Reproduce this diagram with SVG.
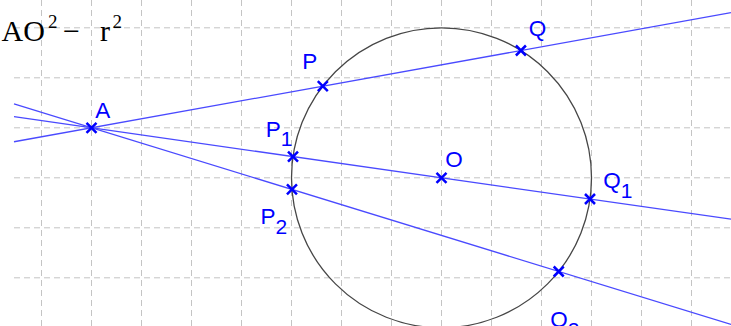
<svg xmlns="http://www.w3.org/2000/svg" width="731" height="326" viewBox="0 0 731 326">
  <style>
    .grid line { stroke: #c4c4c4; stroke-width: 1; stroke-dasharray: 6 4; }
    .ln { stroke: #4a4aff; stroke-width: 1.3; fill: none; }
    .circ { stroke: #464646; stroke-width: 1.3; fill: none; }
    .pt { stroke: #0000ff; stroke-width: 2.5; fill: none; }
    .lbl { font-family: "Liberation Sans", Arial, sans-serif; font-size: 22.5px; fill: #0000ff; }
    .sub { font-size: 21px; }
    .title { font-family: "Liberation Serif", "Times New Roman", serif; fill: #000; }
  </style>
  <defs>
    <path id="x" d="M-5,-5 L5,5 M-5,5 L5,-5" class="pt"/>
  </defs>
  <rect width="731" height="326" fill="#fff"/>
  <g class="grid">
    <line x1="41.5" y1="0" x2="41.5" y2="326"/>
    <line x1="91.5" y1="0" x2="91.5" y2="326"/>
    <line x1="141.5" y1="0" x2="141.5" y2="326"/>
    <line x1="191.5" y1="0" x2="191.5" y2="326"/>
    <line x1="241.5" y1="0" x2="241.5" y2="326"/>
    <line x1="291.5" y1="0" x2="291.5" y2="326"/>
    <line x1="341.5" y1="0" x2="341.5" y2="326"/>
    <line x1="391.5" y1="0" x2="391.5" y2="326"/>
    <line x1="441.5" y1="0" x2="441.5" y2="326"/>
    <line x1="491.5" y1="0" x2="491.5" y2="326"/>
    <line x1="541.5" y1="0" x2="541.5" y2="326"/>
    <line x1="591.5" y1="0" x2="591.5" y2="326"/>
    <line x1="641.5" y1="0" x2="641.5" y2="326"/>
    <line x1="691.5" y1="0" x2="691.5" y2="326"/>
    <line x1="14" y1="27.8" x2="731" y2="27.8"/>
    <line x1="14" y1="77.8" x2="731" y2="77.8"/>
    <line x1="14" y1="127.8" x2="731" y2="127.8"/>
    <line x1="14" y1="177.8" x2="731" y2="177.8"/>
    <line x1="14" y1="227.8" x2="731" y2="227.8"/>
    <line x1="14" y1="277.8" x2="731" y2="277.8"/>
  </g>
  <text class="title" font-size="30"><tspan x="1.5" y="40.5">AO</tspan><tspan x="48" y="28" font-size="19">2</tspan><tspan x="63" y="40.5">−</tspan><tspan x="100" y="40.5">r</tspan><tspan x="112.5" y="28" font-size="19">2</tspan></text>
  <g id="circle">
    <circle class="circ" cx="441.5" cy="177.8" r="150"/>
  </g>
  <g id="connectors">
    <line class="ln" x1="14" y1="141.75" x2="731" y2="12.69"/>
    <line class="ln" x1="14" y1="116.73" x2="731" y2="219.16"/>
    <line class="ln" x1="14" y1="103.96" x2="731" y2="324.5"/>
  </g>
  <g id="A"><use href="#x" x="91.5" y="127.8"/><text class="lbl" x="95.3" y="117.5">A</text></g>
  <g id="P"><use href="#x" x="322.8" y="86.2"/><text class="lbl" x="302.3" y="68.5">P</text></g>
  <g id="Q"><use href="#x" x="520.9" y="50.5"/><text class="lbl" x="528.8" y="35.5">Q</text></g>
  <g id="P1"><use href="#x" x="293" y="156.6"/><text class="lbl" x="265.8" y="136.7">P<tspan class="sub" dy="9.5">1</tspan></text></g>
  <g id="O"><use href="#x" x="441.5" y="177.8"/><text class="lbl" x="445.3" y="166.8">O</text></g>
  <g id="Q1"><use href="#x" x="590" y="199"/><text class="lbl" x="603.3" y="188">Q<tspan class="sub" dy="9.5">1</tspan></text></g>
  <g id="P2"><use href="#x" x="291.95" y="189.46"/><text class="lbl" x="260.5" y="223.5">P<tspan class="sub" dy="10.5">2</tspan></text></g>
  <g id="Q2"><use href="#x" x="558.7" y="271.5"/><text class="lbl" x="550.3" y="327">Q<tspan class="sub" dy="10">2</tspan></text></g>
</svg>
